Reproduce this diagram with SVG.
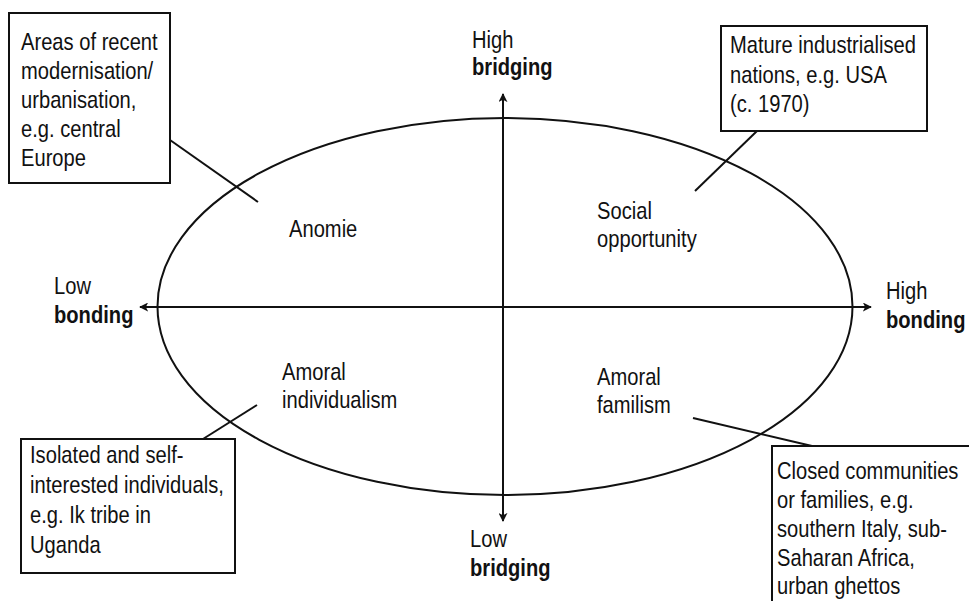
<svg xmlns="http://www.w3.org/2000/svg" width="969" height="601" viewBox="0 0 969 601">
<style>
  .t { font-family: "Liberation Sans", Arial, sans-serif; font-size: 24px; fill: #111; }
  .b { font-weight: bold; }
  .box { fill: #fff; stroke: #111; stroke-width: 2; }
  .ln { stroke: #111; stroke-width: 2; fill: none; }
</style>
<defs>
  <marker id="arr" viewBox="0 0 10 10" refX="9" refY="5" markerWidth="4.5" markerHeight="4.5" orient="auto" markerUnits="strokeWidth">
    <path d="M0,0 L10,5 L0,10 L2.5,5 Z" fill="#111"/>
  </marker>
</defs>
<rect width="969" height="601" fill="#fff"/>

<g id="ellipse">
  <ellipse class="ln" cx="505" cy="306.5" rx="347.5" ry="188.5"/>
</g>

<g id="connectors">
  <line class="ln" x1="503" y1="307" x2="140" y2="307" marker-end="url(#arr)"/>
  <line class="ln" x1="503" y1="307" x2="871" y2="307" marker-end="url(#arr)"/>
  <line class="ln" x1="503" y1="307" x2="503" y2="94" marker-end="url(#arr)"/>
  <line class="ln" x1="503" y1="307" x2="503" y2="521" marker-end="url(#arr)"/>
  <line class="ln" x1="170" y1="140" x2="258" y2="202"/>
  <line class="ln" x1="757" y1="131" x2="695" y2="191"/>
  <line class="ln" x1="203" y1="439" x2="257" y2="405"/>
  <line class="ln" x1="693" y1="418" x2="812" y2="446"/>
</g>

<g id="axis-high-bridging">
  <g transform="translate(472,48) scale(0.84,1)"><text class="t"><tspan x="0" y="0">High</tspan><tspan class="b" x="0" y="27">bridging</tspan></text></g>
</g>
<g id="axis-low-bridging">
  <g transform="translate(470,547) scale(0.84,1)"><text class="t"><tspan x="0" y="0">Low</tspan><tspan class="b" x="0" y="29">bridging</tspan></text></g>
</g>
<g id="axis-low-bonding">
  <g transform="translate(54,294) scale(0.84,1)"><text class="t"><tspan x="0" y="0">Low</tspan><tspan class="b" x="0" y="29">bonding</tspan></text></g>
</g>
<g id="axis-high-bonding">
  <g transform="translate(886,299) scale(0.84,1)"><text class="t"><tspan x="0" y="0">High</tspan><tspan class="b" x="0" y="29">bonding</tspan></text></g>
</g>

<g id="q-anomie">
  <g transform="translate(289,237) scale(0.84,1)"><text class="t"><tspan x="0" y="0">Anomie</tspan></text></g>
</g>
<g id="q-social-opportunity">
  <g transform="translate(597,219) scale(0.84,1)"><text class="t"><tspan x="0" y="0">Social</tspan><tspan x="0" y="28">opportunity</tspan></text></g>
</g>
<g id="q-amoral-individualism">
  <g transform="translate(282,380) scale(0.84,1)"><text class="t"><tspan x="0" y="0">Amoral</tspan><tspan x="0" y="28">individualism</tspan></text></g>
</g>
<g id="q-amoral-familism">
  <g transform="translate(597,385) scale(0.84,1)"><text class="t"><tspan x="0" y="0">Amoral</tspan><tspan x="0" y="28">familism</tspan></text></g>
</g>

<g id="box-modernisation">
  <rect class="box" x="9" y="13" width="161" height="170"/>
  <g transform="translate(21,50) scale(0.84,1)"><text class="t">
    <tspan x="0" y="0">Areas of recent</tspan>
    <tspan x="0" y="29">modernisation/</tspan>
    <tspan x="0" y="58">urbanisation,</tspan>
    <tspan x="0" y="87">e.g. central</tspan>
    <tspan x="0" y="116">Europe</tspan>
  </text></g>
</g>

<g id="box-mature">
  <rect class="box" x="721" y="26" width="206" height="105"/>
  <g transform="translate(730,53) scale(0.84,1)"><text class="t">
    <tspan x="0" y="0">Mature industrialised</tspan>
    <tspan x="0" y="30">nations, e.g. USA</tspan>
    <tspan x="0" y="59">(c. 1970)</tspan>
  </text></g>
</g>

<g id="box-isolated">
  <rect class="box" x="21" y="439" width="214" height="134"/>
  <g transform="translate(30,463) scale(0.84,1)"><text class="t">
    <tspan x="0" y="0">Isolated and self-</tspan>
    <tspan x="0" y="30">interested individuals,</tspan>
    <tspan x="0" y="60">e.g. Ik tribe in</tspan>
    <tspan x="0" y="90">Uganda</tspan>
  </text></g>
</g>

<g id="box-closed">
  <rect class="box" x="772" y="446" width="210" height="170"/>
  <g transform="translate(777,479) scale(0.84,1)"><text class="t">
    <tspan x="0" y="0">Closed communities</tspan>
    <tspan x="0" y="29">or families, e.g.</tspan>
    <tspan x="0" y="58">southern Italy, sub-</tspan>
    <tspan x="0" y="87">Saharan Africa,</tspan>
    <tspan x="0" y="115">urban ghettos</tspan>
  </text></g>
</g>
</svg>
